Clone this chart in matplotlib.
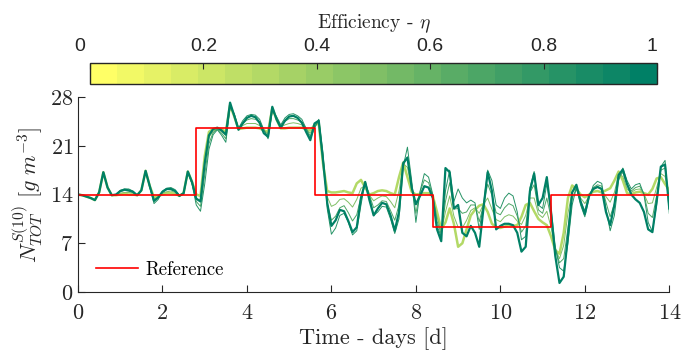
import numpy as np
import matplotlib
matplotlib.use('Agg')
import matplotlib.pyplot as plt
from matplotlib import cm, colors
from matplotlib.transforms import ScaledTranslation

# fonts: computer modern look for the axes, sans for the colorbar ticks
plt.rcParams['font.family'] = 'cmr10'
plt.rcParams['mathtext.fontset'] = 'cm'
plt.rcParams['axes.formatter.use_mathtext'] = True

# sample times (days), every 0.1 d
time_days = np.round(np.arange(141) * 0.1, 1)

# reference set-point (step profile)
ref_times = [0, 2.8, 5.6, 8.4, 11.2, 14]
ref_levels = [14, 23.5, 14, 9.3, 14]

# efficiency of each simulated curve
etas = [0.3, 0.5, 0.7, 0.85, 1.0]
line_widths = [1.8, 0.7, 0.7, 0.7, 1.6]

# N_TOT values, one list per efficiency
n_eta_030 = [
    14.0, 13.9, 13.7, 13.5, 13.2, 14.3, 17.2, 15.0, 13.9, 13.9,
    14.0, 14.1, 14.0, 14.0, 13.9, 14.6, 17.4, 15.2, 13.6, 13.8,
    14.0, 14.2, 14.2, 14.1, 13.8, 14.2, 17.3, 15.8, 14.0, 13.8,
    19.5, 23.0, 23.4, 23.5, 23.4, 23.0, 26.8, 25.2, 23.4, 23.5,
    23.6, 23.6, 23.6, 23.5, 23.2, 23.0, 26.4, 24.8, 23.5, 23.5,
    23.6, 23.6, 23.6, 23.6, 23.4, 23.2, 24.0, 24.2, 18.5, 14.5,
    14.3, 14.3, 14.4, 14.5, 14.3, 14.2, 15.6, 16.1, 15.0, 14.0,
    14.2, 14.5, 14.6, 14.5, 14.2, 14.0, 16.5, 18.6, 16.5, 14.4,
    14.0, 14.1, 14.2, 14.2, 13.8, 11.5, 9.0, 10.0, 12.0, 9.8,
    6.5, 7.0, 9.0, 11.0, 11.8, 12.4, 12.6, 11.5, 9.8, 9.3,
    9.2, 9.4, 9.6, 9.5, 9.6, 10.8, 12.5, 12.8, 11.6, 10.5,
    10.0, 9.6, 8.0, 6.0, 5.5, 8.5, 13.5, 15.3, 14.8, 14.0,
    13.6, 14.0, 14.4, 14.5, 14.3, 14.6, 14.9, 16.0, 17.3, 16.0,
    14.2, 14.0, 14.3, 14.4, 14.2, 14.0, 14.8, 16.3, 16.5, 15.5,
    14.6,
]
n_eta_050 = [
    14.0, 13.9, 13.7, 13.5, 13.2, 14.3, 17.2, 15.0, 13.9, 13.9,
    14.2, 14.3, 14.3, 14.2, 13.9, 14.6, 17.4, 15.1, 13.3, 13.6,
    14.2, 14.4, 14.5, 14.3, 13.8, 14.1, 17.3, 15.7, 13.5, 13.1,
    18.2, 22.2, 23.1, 23.4, 23.1, 22.5, 26.7, 25.3, 23.4, 23.9,
    24.2, 24.2, 24.2, 23.9, 23.2, 22.7, 26.3, 24.9, 23.7, 24.0,
    24.2, 24.3, 24.2, 24.0, 23.4, 22.8, 23.8, 24.4, 19.0, 13.7,
    12.3, 12.6, 13.3, 13.4, 12.9, 12.2, 13.3, 14.9, 15.3, 13.9,
    13.1, 13.5, 13.8, 13.7, 13.0, 12.1, 14.5, 18.4, 17.9, 14.9,
    12.7, 14.2, 15.1, 15.0, 13.9, 10.8, 8.7, 11.5, 13.8, 10.9,
    9.3, 9.2, 10.3, 11.7, 12.1, 11.3, 12.6, 13.5, 11.9, 10.4,
    10.1, 10.8, 11.1, 10.9, 10.2, 9.7, 11.0, 13.5, 13.5, 11.2,
    10.7, 11.6, 9.3, 6.2, 4.8, 6.7, 11.3, 14.4, 14.9, 13.5,
    12.7, 13.8, 14.7, 15.0, 14.7, 13.7, 12.9, 14.3, 16.9, 16.6,
    14.8, 14.3, 14.7, 14.8, 14.1, 12.7, 12.8, 15.0, 17.0, 16.6,
    13.5,
]
n_eta_070 = [
    14.0, 13.9, 13.7, 13.5, 13.2, 14.3, 17.2, 15.0, 13.9, 14.0,
    14.4, 14.6, 14.5, 14.3, 13.9, 14.6, 17.4, 15.1, 13.0, 13.5,
    14.3, 14.7, 14.7, 14.5, 13.9, 14.1, 17.2, 15.6, 13.0, 12.3,
    16.8, 21.3, 22.9, 23.4, 22.8, 22.0, 26.6, 25.5, 23.5, 24.2,
    24.7, 24.9, 24.8, 24.4, 23.3, 22.3, 26.1, 25.1, 23.8, 24.5,
    24.9, 24.9, 24.7, 24.4, 23.5, 22.4, 23.7, 24.6, 19.5, 12.8,
    10.3, 10.9, 12.1, 12.4, 11.4, 10.2, 11.1, 13.7, 15.6, 13.9,
    12.1, 12.5, 13.1, 13.0, 11.7, 10.3, 12.5, 18.2, 19.4, 15.5,
    11.3, 14.4, 16.1, 15.7, 13.9, 10.2, 8.3, 13.0, 15.7, 11.9,
    12.0, 11.3, 11.5, 12.5, 12.5, 10.1, 12.5, 15.5, 13.9, 11.4,
    11.1, 12.1, 12.7, 12.4, 10.9, 8.6, 9.5, 14.3, 15.4, 11.8,
    11.3, 13.5, 10.7, 6.3, 4.2, 4.8, 9.2, 13.4, 14.9, 13.0,
    11.7, 13.7, 15.0, 15.4, 15.2, 12.9, 10.8, 12.7, 16.4, 17.2,
    15.4, 14.5, 15.0, 15.2, 14.1, 11.3, 10.7, 13.8, 17.5, 17.8,
    12.4,
]
n_eta_085 = [
    14.0, 13.9, 13.7, 13.5, 13.2, 14.3, 17.2, 15.0, 13.9, 14.0,
    14.6, 14.8, 14.8, 14.5, 13.9, 14.6, 17.4, 15.0, 12.7, 13.3,
    14.5, 14.9, 15.0, 14.7, 13.9, 14.0, 17.2, 15.5, 12.5, 11.6,
    15.5, 20.5, 22.6, 23.3, 22.5, 21.5, 26.5, 25.6, 23.5, 24.6,
    25.3, 25.5, 25.4, 24.8, 23.3, 22.0, 26.0, 25.2, 24.0, 25.0,
    25.5, 25.6, 25.3, 24.8, 23.5, 22.0, 23.5, 24.8, 20.0, 12.0,
    8.3, 9.2, 11.0, 11.3, 10.0, 8.2, 8.8, 12.5, 15.9, 13.8,
    11.0, 11.5, 12.3, 12.2, 10.5, 8.4, 10.5, 18.0, 20.8, 16.0,
    10.0, 14.5, 17.0, 16.5, 14.0, 9.5, 8.0, 14.5, 17.5, 13.0,
    14.8, 13.5, 12.8, 13.2, 12.8, 9.0, 12.5, 17.5, 16.0, 12.5,
    12.0, 13.5, 14.2, 13.8, 11.5, 7.5, 8.0, 15.0, 17.3, 12.5,
    12.0, 15.5, 12.0, 6.5, 3.5, 3.0, 7.0, 12.5, 15.0, 12.5,
    10.8, 13.5, 15.3, 15.9, 15.6, 12.0, 8.8, 11.0, 16.0, 17.8,
    16.0, 14.8, 15.4, 15.6, 14.0, 10.0, 8.7, 12.5, 18.0, 18.9,
    11.3,
]
n_eta_100 = [
    14.0, 13.9, 13.7, 13.5, 13.2, 14.3, 17.2, 15.0, 13.9, 14.0,
    14.5, 14.7, 14.6, 14.4, 13.9, 14.6, 17.4, 15.2, 13.1, 13.6,
    14.4, 14.8, 14.8, 14.5, 13.8, 14.2, 17.3, 15.8, 13.4, 13.0,
    18.5, 22.5, 23.4, 23.6, 23.2, 22.6, 27.2, 25.3, 23.3, 24.2,
    25.0, 25.3, 25.1, 24.3, 22.8, 22.3, 26.6, 24.8, 23.6, 24.6,
    25.2, 25.3, 25.0, 24.3, 23.0, 21.8, 24.2, 24.6, 19.0, 12.8,
    9.5, 10.3, 11.8, 11.6, 10.2, 8.6, 9.3, 13.5, 15.8, 13.2,
    11.0, 12.0, 12.8, 12.6, 11.0, 8.8, 11.5, 18.5, 19.3, 15.0,
    12.6, 13.8, 15.2, 15.0, 13.5, 9.0, 7.3, 17.8, 17.2, 12.0,
    12.5, 8.5, 8.0, 9.5, 8.5, 6.5, 12.0, 17.2, 14.5, 9.0,
    9.5, 9.8, 9.8, 9.6, 8.5, 5.8, 6.5, 14.5, 17.0, 12.5,
    13.5, 16.5, 11.5, 5.2, 1.3, 2.2, 8.0, 14.3, 15.4, 13.0,
    11.2, 13.8, 14.8, 15.1, 14.8, 11.5, 9.6, 12.5, 16.8, 17.6,
    15.5, 14.0, 13.3, 12.8, 11.5, 9.0, 8.6, 13.0, 18.0, 18.3,
    12.0,
]
all_series = [n_eta_030, n_eta_050, n_eta_070, n_eta_085, n_eta_100]

cbar_ticks = [0, 0.2, 0.4, 0.6, 0.8, 1]
cbar_ticklabels = ['0', '0.2', '0.4', '0.6', '0.8', '1']

# colormap: yellow (eta=0) -> dark green (eta=1), 21 discrete levels like the original
cmap = plt.get_cmap('summer_r', 21)
norm = colors.Normalize(vmin=0, vmax=1)

fig = plt.figure(figsize=(6.94, 3.51), dpi=100)
ax = fig.add_axes([0.1124, 0.168, 0.852, 0.5556])
cax = fig.add_axes([0.1297, 0.7607, 0.817, 0.0598])

for eta, lw, values in zip(etas, line_widths, all_series):
    ax.plot(time_days, values, color=cmap(norm(eta)), linewidth=lw)

ax.plot(ref_times, ref_levels + [ref_levels[-1]], drawstyle='steps-post',
        color='red', linewidth=1.2, label='Reference')

ax.set_xlim(0, 14)
ax.set_ylim(0, 28)
ax.set_xticks(np.arange(0, 15, 2))
ax.set_yticks([0, 7, 14, 21, 28])
for side in ['top', 'right']:
    ax.spines[side].set_visible(False)
for side in ['left', 'bottom']:
    ax.spines[side].set_color('0.15')
    ax.spines[side].set_linewidth(0.8)
ax.tick_params(direction='in', length=5, width=0.8, labelsize=16, colors='0.15')
ax.tick_params(axis='x', pad=8)

ax.set_xlabel('Time - days [d]', fontsize=16, color='0.15', labelpad=3)
ax.set_ylabel(r'$N_{TOT}^{S(10)}\ [g\ m^{-3}]$', fontsize=16, color='0.15', labelpad=4)

leg = ax.legend(loc='lower left', bbox_to_anchor=(0.009, 0.0), frameon=False,
                fontsize=13.5, handlelength=2.2, handletextpad=0.4, borderaxespad=0.3)

# colorbar on top
sm = cm.ScalarMappable(norm=norm, cmap=cmap)
cbar = fig.colorbar(sm, cax=cax, orientation='horizontal')
cbar.set_ticks(cbar_ticks)
cbar.ax.xaxis.set_ticks_position('top')
cbar.ax.xaxis.set_label_position('top')
cbar.ax.set_xticklabels(cbar_ticklabels, fontfamily='Liberation Sans', fontsize=14)
cbar.ax.tick_params(direction='in', length=4, width=0.8, colors='0.15', pad=6)
cbar.outline.set_edgecolor('0.15')
cbar.outline.set_linewidth(1.0)
cbar.set_label(r'Efficiency - $\eta$', fontsize=14, color='0.15', labelpad=7)

# end labels sit a little left of their ticks in the original
tick_labels = cbar.ax.get_xticklabels()
tick_labels[0].set_transform(tick_labels[0].get_transform()
                             + ScaledTranslation(-10 / 100, 0, fig.dpi_scale_trans))
tick_labels[-1].set_transform(tick_labels[-1].get_transform()
                              + ScaledTranslation(-5 / 100, 0, fig.dpi_scale_trans))

fig.savefig('out.png', dpi=100)
